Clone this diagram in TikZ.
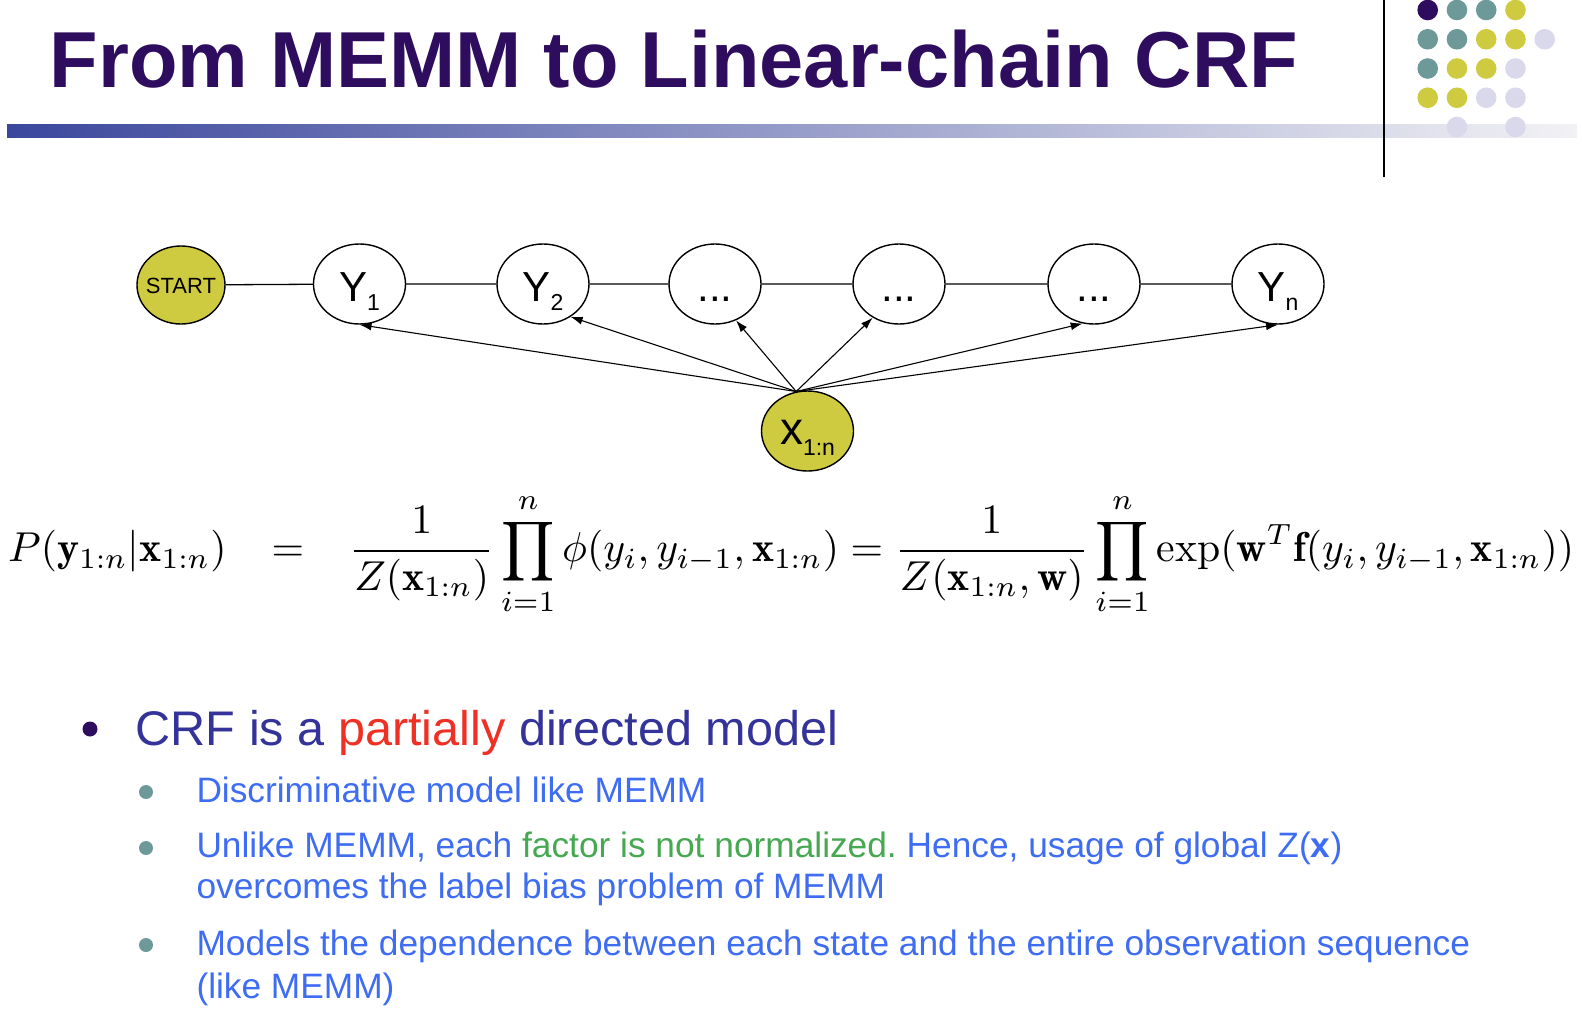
\documentclass[tikz,border=0pt]{standalone}
\usepackage{fontspec}
\usepackage{amsmath}
\usepackage{graphicx}
\usepackage{tikz}
\usetikzlibrary{shapes.geometric, arrows.meta, positioning}

\newfontfamily\arialf{Liberation Sans}
\frenchspacing

\definecolor{titlepurple}{HTML}{2E0C5E}
\definecolor{tealdot}{HTML}{6E9999}
\definecolor{olivedot}{HTML}{CFCB40}
\definecolor{lavdot}{HTML}{DAD9EB}
\definecolor{barblue}{HTML}{3B479D}
\definecolor{barwhite}{HTML}{F2F2F5}
\definecolor{crfblue}{HTML}{333399}
\definecolor{subblue}{HTML}{3E6CF2}
\definecolor{factgreen}{HTML}{47A852}
\definecolor{partred}{HTML}{EE3124}

\newcommand{\ysub}[2]{#1{\fontsize{23}{23}\selectfont\raisebox{-9pt}{#2}}}
\newcommand{\dotslab}{...}

\begin{document}
\begin{tikzpicture}[x=1pt, y=-1pt,
    state/.style={ellipse, draw=black, line width=1.4pt, fill=white, minimum width=92pt,
      minimum height=80pt, inner sep=0pt, text height=34pt, text depth=0pt,
      font=\arialf\fontsize{42}{42}\selectfont},
    observed/.style={state, fill=olivedot, text height=26pt, font=\arialf\fontsize{46}{46}\selectfont},
    link/.style={line width=1.3pt},
    dep/.style={line width=1.1pt, -{Latex[length=12pt, width=8pt]}},
    paldot/.style={circle, inner sep=0pt, minimum size=20.6pt},
    bulletdot/.style={circle, inner sep=0pt, minimum size=#1},
    item1/.style={anchor=base west, inner sep=0pt, text=crfblue, font=\arialf\fontsize{48.6}{50}\selectfont},
    item2/.style={anchor=base west, inner sep=0pt, text=subblue, font=\arialf\fontsize{35.3}{40}\selectfont}
    ]
    \useasboundingbox (0,0) rectangle (1582,1020);

    % title and bar
    \node[anchor=base west, inner sep=0pt, text=titlepurple,
      font=\arialf\bfseries\fontsize{79.4}{80}\selectfont] (title) at (49.5,87) {From MEMM to Linear-chain CRF};
    \shade[left color=barblue, right color=barwhite] (7,124) rectangle (1577,137);

    % palette dots
    \foreach \c/\r/\col in {0/0/titlepurple, 1/0/tealdot, 2/0/tealdot, 3/0/olivedot,
        0/1/tealdot, 1/1/tealdot, 2/1/olivedot, 3/1/olivedot, 4/1/lavdot,
        0/2/tealdot, 1/2/olivedot, 2/2/olivedot, 3/2/lavdot,
        0/3/olivedot, 1/3/olivedot, 2/3/lavdot, 3/3/lavdot,
        1/4/lavdot, 3/4/lavdot} {
        \node[paldot, fill=\col] (pal\c\r) at ({1427.7+29.25*\c},{10+29.25*\r}) {};
    }
    \draw[line width=2pt] (1384,0) -- (1384,177);

    % the chain
    \node[state, fill=olivedot, text height=16pt, font=\arialf\fontsize{22}{22}\selectfont,
      minimum width=88pt, minimum height=78pt] (start) at (181,285) {\makebox[0pt]{START}};
    \foreach \name/\xpos/\lab in {y1/359.5/\ysub{Y}{1}, y2/543/\ysub{Y}{2}, d1/715/\dotslab, d2/899/\dotslab,
        d3/1094/\dotslab, yn/1278/\ysub{Y}{n}} {
        \node[state] (\name) at (\xpos,284) {\lab};
    }
    \draw[link] (start) -- (y1) -- (y2) -- (d1) -- (d2) -- (d3) -- (yn);

    \node[observed] (x) at (807.5,431) {x{\fontsize{23}{23}\selectfont\raisebox{-11pt}{1:n}}};
    \foreach \tgt/\anc in {y1/south, y2/-50, d1/-60, d2/-128, d3/-106, yn/south} {
        \draw[dep] (x.106) -- (\tgt.\anc);
    }

    % the formula
    \node[anchor=west, inner sep=0pt] (eqn) at (8,554) {\resizebox{1566pt}{!}{$\displaystyle
      P(\mathbf{y}_{1:n}|\mathbf{x}_{1:n})\hspace{8pt}=\hspace{8pt}\frac{1}{Z(\mathbf{x}_{1:n})}\prod_{i=1}^{n}\phi(y_i,y_{i-1},\mathbf{x}_{1:n})
      =\frac{1}{Z(\mathbf{x}_{1:n},\mathbf{w})}\prod_{i=1}^{n}\exp(\mathbf{w}^T\mathbf{f}(y_i,y_{i-1},\mathbf{x}_{1:n}))$}};

    % bullets
    \node[bulletdot=15pt, fill=titlepurple] (b0) at (90,729) {};
    \node[item1] (t0) at (135.5,745) {CRF is a \textcolor{partred}{partially} directed model};

    \node[bulletdot=14pt, fill=tealdot] (b1) at (146,792) {};
    \node[item2] (t1) at (196.3,802) {Discriminative model like MEMM};
    \node[bulletdot=14pt, fill=tealdot] (b2) at (146,848) {};
    \node[item2] (t2) at (196.3,857) {Unlike MEMM, each \textcolor{factgreen}{factor is not normalized.} Hence, usage of global Z(\textbf{x})};
    \node[item2] (t2b) at (196.3,898) {overcomes the label bias problem of MEMM};
    \node[bulletdot=14pt, fill=tealdot] (b3) at (146,945) {};
    \node[item2] (t3) at (196.3,955) {Models the dependence between each state and the entire observation sequence};
    \node[item2] (t3b) at (196.3,998) {(like MEMM)};
\end{tikzpicture}
\end{document}
